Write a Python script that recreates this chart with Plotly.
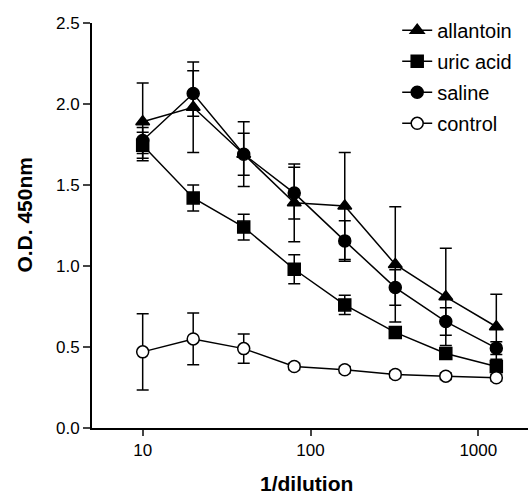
import plotly.graph_objects as go

# 1/dilution steps (log axis)
dilution = [10, 20, 40, 80, 160, 320, 640, 1280]

# O.D. 450nm readings and error bars
allantoin = [1.89, 1.98, 1.69, 1.39, 1.37, 1.01, 0.81, 0.625]
allantoin_err = [0.24, 0.28, 0.20, 0.24, 0.33, 0.355, 0.30, 0.20]
uric_acid = [1.745, 1.42, 1.24, 0.98, 0.76, 0.59, 0.46, 0.38]
uric_acid_err = [0.08, 0.08, 0.08, 0.09, 0.06, 0.03, 0.03, 0.03]
saline = [1.775, 2.065, 1.69, 1.45, 1.155, 0.867, 0.657, 0.493]
saline_err = [0.08, 0.14, 0.13, 0.16, 0.125, 0.11, 0.085, 0.04]
control = [0.47, 0.55, 0.49, 0.38, 0.36, 0.33, 0.32, 0.31]
control_err = [0.235, 0.16, 0.09, 0.02, 0.02, 0.02, 0.02, 0.02]

y_ticks = [0.0, 0.5, 1.0, 1.5, 2.0, 2.5]
x_ticks = [10, 100, 1000]

FONT = "Liberation Sans, Arial, sans-serif"

series = [
    ("allantoin", allantoin, allantoin_err, "triangle-up", "black"),
    ("uric acid", uric_acid, uric_acid_err, "square", "black"),
    ("saline", saline, saline_err, "circle", "black"),
    ("control", control, control_err, "circle", "white"),
]

fig = go.Figure()
for name, vals, errs, symbol, fill in series:
    fig.add_trace(go.Scatter(
        x=dilution,
        y=vals,
        name=name,
        legendgroup=name,
        mode="lines+markers",
        line=dict(color="black", width=1.5),
        marker=dict(symbol=symbol, size=12, color=fill,
                    line=dict(color="black", width=1.5)),
        error_y=dict(type="data", array=errs, visible=True,
                     color="black", thickness=1.5, width=6),
    ))

fig.update_layout(
    width=528,
    height=494,
    paper_bgcolor="white",
    plot_bgcolor="white",
    margin=dict(l=92, r=0, t=23, b=66),
    font=dict(family=FONT, size=17, color="black"),
    showlegend=True,
    legend=dict(
        x=0.70, y=1.03, xanchor="left", yanchor="top",
        font=dict(size=20),
        tracegroupgap=2,
        bgcolor="rgba(0,0,0,0)",
    ),
)

# axis titles as annotations so they sit where the original has them
fig.add_annotation(
    text="<b>1/dilution</b>", xref="paper", yref="paper",
    x=0.493, y=-0.137, xanchor="center", yanchor="middle",
    showarrow=False, font=dict(size=21),
)
fig.add_annotation(
    text="<b>O.D. 450nm</b>", xref="paper", yref="paper",
    x=-0.155, y=0.528, xanchor="center", yanchor="middle",
    textangle=-90, showarrow=False, font=dict(size=21),
)

fig.update_xaxes(
    type="log",
    range=[0.698, 3.296],
    tickvals=x_ticks,
    ticktext=[str(v) for v in x_ticks],
    tickfont=dict(size=17),
    ticks="outside",
    ticklen=6,
    tickwidth=1.5,
    showline=True,
    linecolor="black",
    linewidth=2,
    showgrid=False,
    zeroline=False,
)

fig.update_yaxes(
    range=[0, 2.5],
    tickvals=y_ticks,
    ticktext=[f"{v:.1f}" for v in y_ticks],
    tickfont=dict(size=17),
    ticks="outside",
    ticklen=7,
    tickwidth=1.5,
    showline=True,
    linecolor="black",
    linewidth=2,
    showgrid=False,
    zeroline=False,
)

# drop the browser's default body margin so the figure fills the window
fig.write_html(
    "out.html",
    config={"displayModeBar": False},
    post_script="document.body.style.margin = '0';",
)
